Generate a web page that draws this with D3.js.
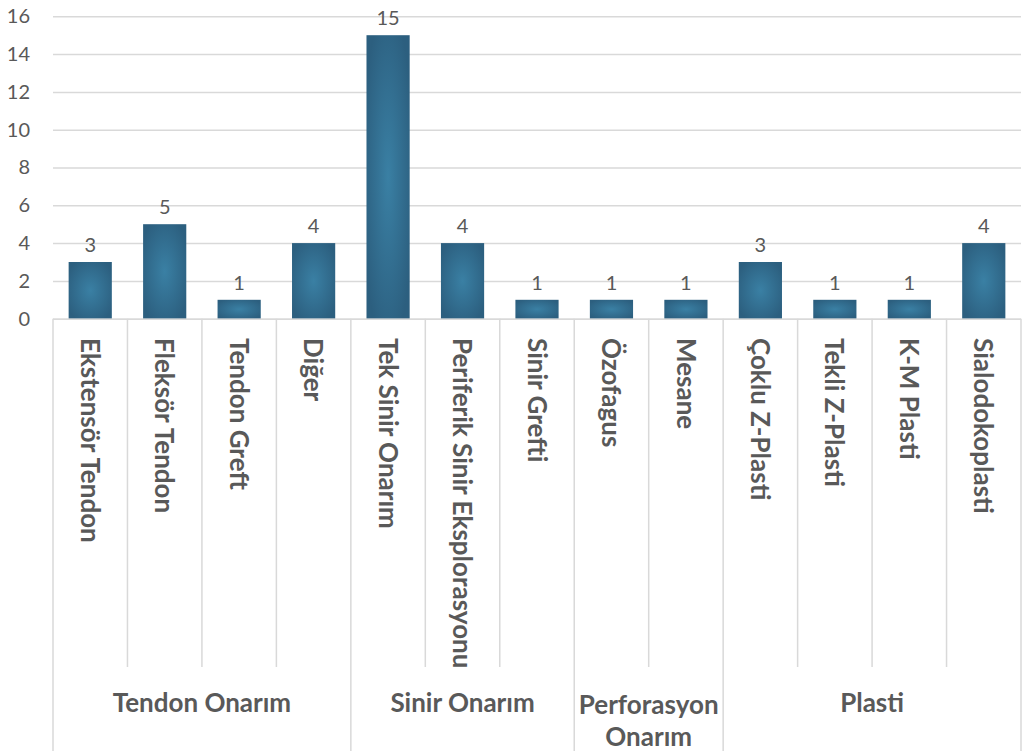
<!DOCTYPE html>
<html><head><meta charset="utf-8">
<script src="https://cdn.jsdelivr.net/npm/d3@7"></script>
<style>
html,body{margin:0;padding:0;background:#fff;}
svg{display:block;}
</style></head>
<body>
<svg id="chart" width="1023" height="751"></svg>
<script>
const categories = ["Ekstensör Tendon","Fleksör Tendon","Tendon Greft","Diğer","Tek Sinir Onarım","Periferik Sinir Eksplorasyonu","Sinir Grefti","Özofagus","Mesane","Çoklu Z-Plasti","Tekli Z-Plasti","K-M Plasti","Sialodokoplasti"];
const values = [3,5,1,4,15,4,1,1,1,3,1,1,4];
const groups = [["Tendon Onarım"],["Sinir Onarım"],["Perforasyon","Onarım"],["Plasti"]];
const groupSizes = [4,3,2,4];
const yTicks = [0,2,4,6,8,10,12,14,16];

(function(){
const svg = d3.select("#chart");
const W = 1023, H = 751;
const mLeft = 53, mRight = 1021, mTop = 16.3, mBottom = 318.7;
const textColor = "#595959", gridColor = "#d9d9d9";
const font = "Lato, 'DejaVu Sans', sans-serif";

const x = d3.scaleBand().domain(categories).range([mLeft, mRight]).paddingInner(0.42).paddingOuter(0.21);
const y = d3.scaleLinear().domain([0,16]).range([mBottom, mTop]);
const step = x.step();

const defs = svg.append("defs");
const rg = defs.append("radialGradient").attr("id","barGrad").attr("cx","50%").attr("cy","50%").attr("r","60%");
rg.append("stop").attr("offset","0%").attr("stop-color","#3a80a4");
rg.append("stop").attr("offset","100%").attr("stop-color","#2c5f7f");

const yAxis = d3.axisLeft(y).tickValues(yTicks).tickSize(-(mRight-mLeft)).tickPadding(23).tickFormat(d3.format("d"));
const ga = svg.append("g").attr("transform",`translate(${mLeft},0)`).call(yAxis);
ga.select(".domain").remove();
ga.selectAll(".tick line").attr("stroke",gridColor).attr("stroke-width",1.5);
ga.selectAll(".tick text").attr("fill",textColor).style("font-family",font).style("font-size","20px");

svg.append("g").selectAll("rect").data(values).join("rect")
  .attr("x",(d,i)=>x(categories[i]))
  .attr("y",d=>y(d))
  .attr("width",x.bandwidth())
  .attr("height",d=>y(0)-y(d))
  .attr("fill","url(#barGrad)");

svg.append("g").selectAll("text").data(values).join("text")
  .attr("x",(d,i)=>x(categories[i])+x.bandwidth()/2)
  .attr("y",d=>y(d)-10)
  .attr("text-anchor","middle")
  .attr("fill",textColor)
  .style("font-family",font).style("font-size","20px")
  .text(d=>d);

svg.append("line").attr("x1",mLeft).attr("x2",mRight).attr("y1",mBottom+0.5).attr("y2",mBottom+0.5)
  .attr("stroke",gridColor).attr("stroke-width",1.5);

const boundaries = [0];
groupSizes.reduce((a,s)=>{boundaries.push(a+s);return a+s;},0);
for(let k=0;k<=categories.length;k++){
  const xx = mLeft + k*step;
  const isGroup = boundaries.includes(k);
  svg.append("line").attr("x1",xx).attr("x2",xx).attr("y1",mBottom).attr("y2",isGroup?H:667)
    .attr("stroke",gridColor).attr("stroke-width",1.5);
}

svg.append("g").selectAll("text").data(categories).join("text")
  .attr("transform",d=>`translate(${x(d)+x.bandwidth()/2},338) rotate(90)`)
  .attr("dy","0.36em")
  .attr("fill",textColor)
  .style("font-family",font).style("font-size","26px").style("font-weight","700")
  .text(d=>d);

let start=0;
groups.forEach((lines,gi)=>{
  const x0 = mLeft + start*step, x1 = mLeft + (start+groupSizes[gi])*step;
  const cx = (x0+x1)/2;
  const t = svg.append("text").attr("x",cx).attr("text-anchor","middle").attr("fill",textColor)
    .style("font-family",font).style("font-size","26px").style("font-weight","700");
  const y0 = lines.length===1 ? 703 : 705;
  lines.forEach((ln,li)=>{
    t.append("tspan").attr("x",cx).attr("y",y0+li*32).attr("dy","0.36em").text(ln);
  });
  start += groupSizes[gi];
});
})();
</script>
</body></html>
